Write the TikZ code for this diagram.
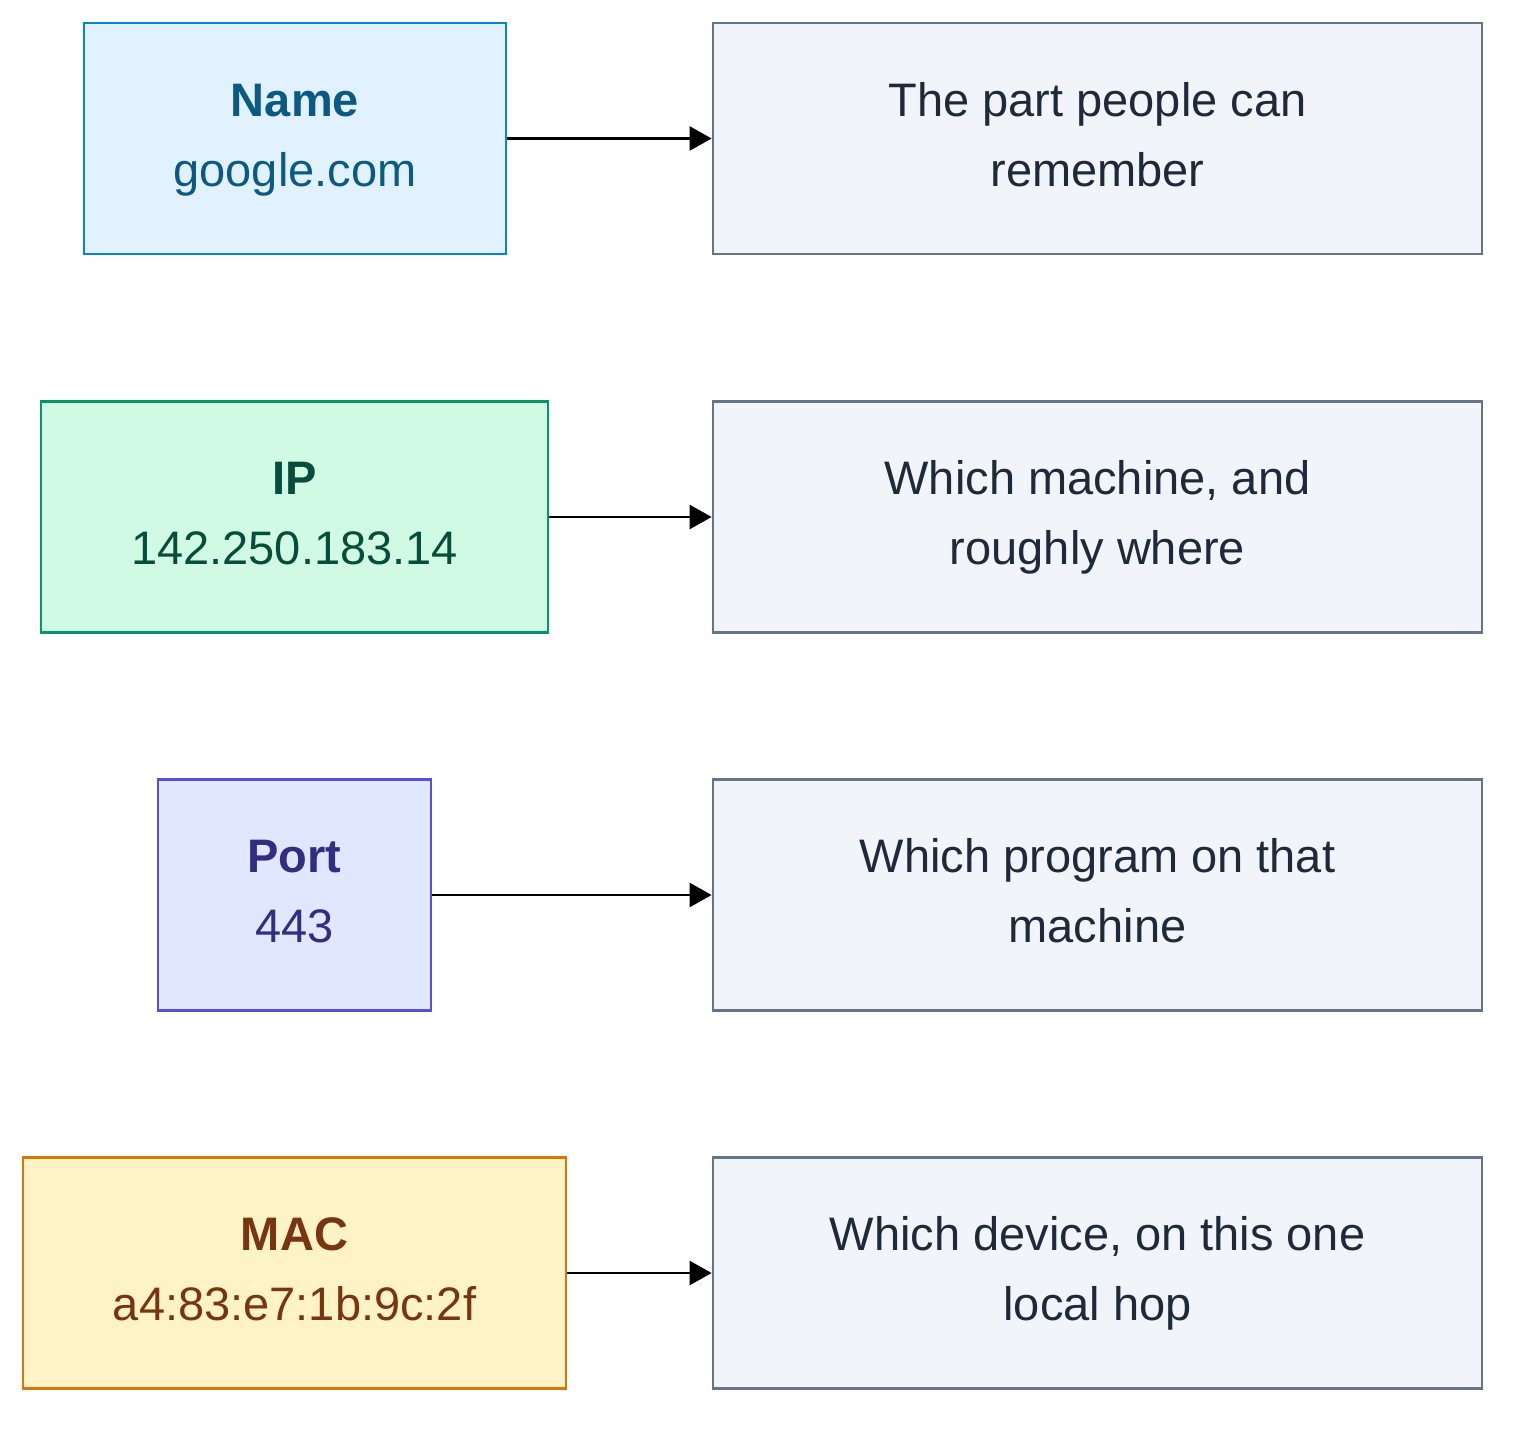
\documentclass[tikz,border=0pt]{standalone}
\usepackage{fontspec}
\setmainfont{Liberation Sans}
\usepackage{xcolor}
\usepackage{tikz}
\usetikzlibrary{arrows.meta}

\definecolor{nameFill}{HTML}{E1F2FE}
\definecolor{nameLine}{HTML}{0288D1}
\definecolor{nameText}{HTML}{0B5A85}
\definecolor{ipFill}{HTML}{D1FAE5}
\definecolor{ipLine}{HTML}{059669}
\definecolor{ipText}{HTML}{064E3B}
\definecolor{portFill}{HTML}{E0E7FF}
\definecolor{portLine}{HTML}{5B4FD6}
\definecolor{portText}{HTML}{312E81}
\definecolor{macFill}{HTML}{FEF3C7}
\definecolor{macLine}{HTML}{D97706}
\definecolor{macText}{HTML}{78350F}
\definecolor{descFill}{HTML}{F1F5F9}
\definecolor{descLine}{HTML}{64748B}
\definecolor{descText}{HTML}{1E293B}

% two lines with fixed struts so every box sets its text alike
\newcommand{\boxlines}[2]{\rule{0pt}{22pt}#1\\#2\rule[-9.5pt]{0pt}{0pt}}

\begin{document}
\begin{tikzpicture}[x=0.5pt,y=-0.5pt,>={Triangle[length=11pt,width=12pt]},
    box/.style={rectangle,draw,line width=1.35pt,inner sep=0pt,minimum height=115.5pt,align=center,font=\fontsize{23.5}{35}\selectfont},
    desc node/.style={box,fill=descFill,draw=descLine,text=descText,minimum width=384.5pt},
    link/.style={->,line width=1.25pt,black}]
  \useasboundingbox (0,0) rectangle (1530,1434);
  % left column
  \node[box,fill=nameFill,draw=nameLine,text=nameText,minimum width=211pt] (name) at (295,138.5) {\boxlines{\textbf{Name}}{google.com}};
  \node[box,fill=ipFill,draw=ipLine,text=ipText,minimum width=253.5pt] (ip) at (294.5,517) {\boxlines{\textbf{IP}}{142.250.183.14}};
  \node[box,fill=portFill,draw=portLine,text=portText,minimum width=136.5pt] (port) at (294.5,895) {\boxlines{\textbf{Port}}{443}};
  \node[box,fill=macFill,draw=macLine,text=macText,minimum width=271.5pt] (mac) at (294.5,1273) {\boxlines{\textbf{MAC}}{a4:83:e7:1b:9c:2f}};
  % right column
  \node[desc node] (nameD) at (1097.5,138.5) {\boxlines{The part people can}{remember}};
  \node[desc node] (ipD) at (1097.5,517) {\boxlines{Which machine, and}{roughly where}};
  \node[desc node] (portD) at (1097.5,895) {\boxlines{Which program on that}{machine}};
  \node[desc node] (macD) at (1097.5,1273) {\boxlines{Which device, on this one}{local hop}};
  % arrows
  \draw[link] (name) -- (nameD);
  \draw[link] (ip) -- (ipD);
  \draw[link] (port) -- (portD);
  \draw[link] (mac) -- (macD);
\end{tikzpicture}
\end{document}
